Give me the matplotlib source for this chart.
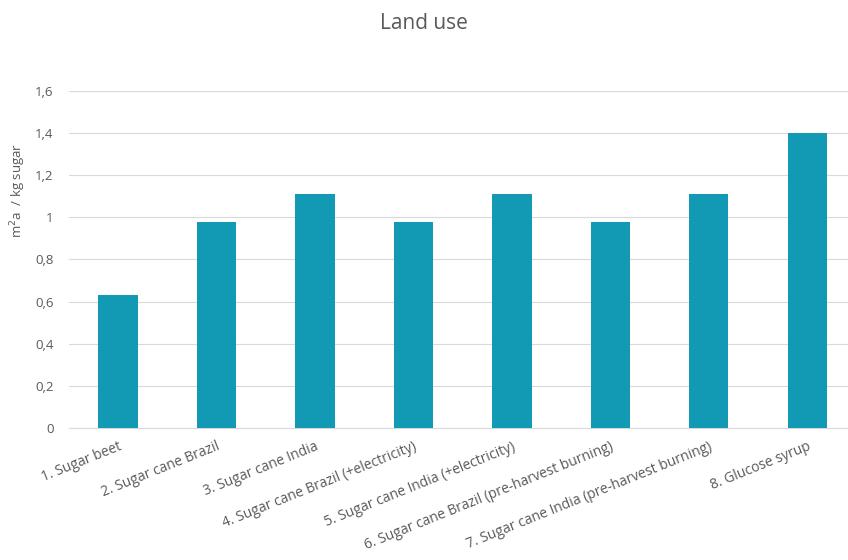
import matplotlib.pyplot as plt
import numpy as np

categories = [
    "1. Sugar beet",
    "2. Sugar cane Brazil",
    "3. Sugar cane India",
    "4. Sugar cane Brazil (+electricity)",
    "5. Sugar cane India (+electricity)",
    "6. Sugar cane Brazil (pre-harvest burning)",
    "7. Sugar cane India (pre-harvest burning)",
    "8. Glucose syrup",
]
land_use = [0.63, 0.98, 1.11, 0.98, 1.11, 0.98, 1.11, 1.40]
y_ticks = [0, 0.2, 0.4, 0.6, 0.8, 1.0, 1.2, 1.4, 1.6]
y_tick_labels = ["0", "0,2", "0,4", "0,6", "0,8", "1", "1,2", "1,4", "1,6"]

plt.rcParams['font.family'] = ['Open Sans', 'DejaVu Sans']
text_color = '#595959'

fig = plt.figure(figsize=(8.48, 5.60), dpi=100)
ax = fig.add_axes([0.081, 0.2357, 0.929, 0.602])

x = np.arange(len(categories))
ax.bar(x, land_use, width=0.4, color='#129AB5', zorder=3)

ax.set_xlim(-0.5, len(categories) - 0.5)
ax.set_ylim(0, 1.6)
ax.set_yticks(y_ticks)
ax.set_yticklabels(y_tick_labels, color=text_color, fontsize=9.5)
ax.set_xticks(x)
ax.set_xticklabels(categories, rotation=22, ha='right', rotation_mode='anchor',
                   color=text_color, fontsize=10)
ax.tick_params(axis='both', length=0)
ax.tick_params(axis='y', pad=11)
ax.tick_params(axis='x', pad=8)

ax.grid(axis='y', color='#D9D9D9', linewidth=0.8, zorder=0)
for side in ['top', 'right', 'left']:
    ax.spines[side].set_visible(False)
ax.spines['bottom'].set_color('#D9D9D9')

# axis title sits in the upper part of the value axis
fig.text(0.021, 0.66, "m$^2$a  / kg sugar", rotation=90, ha='center', va='center',
         color=text_color, fontsize=9.5)
fig.text(0.5, 0.958, "Land use", ha='center', va='center', fontsize=15, color=text_color)

fig.savefig('out.png', dpi=100)
